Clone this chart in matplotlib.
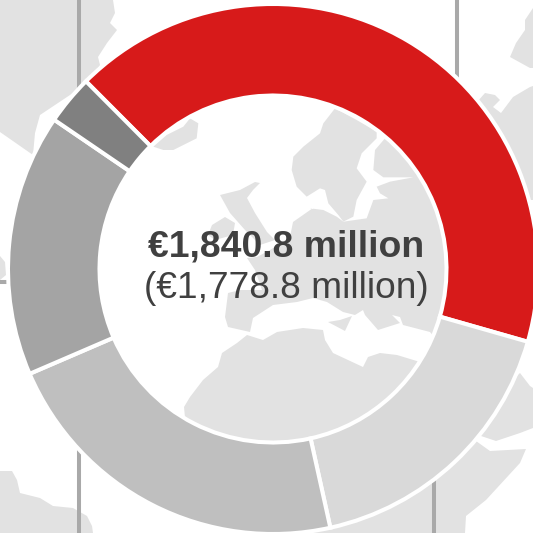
import matplotlib.pyplot as plt
from matplotlib.patches import Polygon

# share of the total, clockwise starting from the red slice
shares = [41.9, 17.1, 22.0, 16.0, 3.0]
colors = ['#d71a1a', '#d9d9d9', '#bfbfbf', '#a4a4a4', '#808080']
total_label = '€1,840.8 million'
prior_label = '(€1,778.8 million)'

LAND = '#e2e2e2'
LINE = '#a9a9a9'
TEXT = '#404040'
SIZE = 533


def crop(pts):
    return [(90 + x / 3, 90 + y / 3) for x, y in pts]


# background map, in picture pixels
land = [
    # greenland
    [(0, 0), (113, 0), (115, 13), (110, 23), (117, 30), (107, 43), (98, 57), (100, 65),
     (88, 83), (40, 115), (35, 133), (33, 155), (0, 132)],
    # left edge
    [(0, 256), (5, 262), (6, 275), (0, 280)],
    # bottom left
    [(0, 471), (12, 471), (17, 480), (20, 493), (40, 498), (53, 506), (73, 508), (87, 516),
     (92, 526), (93, 533), (0, 533)],
    # top right
    [(533, 8), (525, 20), (525, 30), (516, 43), (510, 57), (530, 68), (533, 68)],
    [(470, 110), (485, 93), (495, 95), (500, 100), (493, 107), (501, 113), (513, 97), (530, 87),
     (533, 86), (533, 200), (500, 200)],
    # arabia
    [(520, 373), (530, 386), (533, 388), (533, 428), (520, 433), (496, 441), (481, 436), (470, 420)],
    # africa
    [(184, 407), (190, 397), (203, 380), (218, 367), (222, 353), (237, 343), (247, 335), (263, 340),
     (277, 332), (303, 328), (323, 330), (325, 340), (333, 353), (363, 367), (368, 357), (380, 353),
     (397, 355), (420, 362), (470, 400), (476, 441), (490, 451), (526, 449), (520, 463), (486, 500),
     (466, 516), (465, 533), (300, 533), (190, 470)],
    # iceland
    crop([(190, 170), (230, 135), (280, 110), (300, 85), (325, 100), (320, 145), (250, 180), (220, 180)]),
    # scandinavia
    crop([(735, 55), (700, 100), (690, 130), (640, 170), (610, 200), (605, 240), (620, 290), (650, 320),
          (690, 295), (705, 300), (715, 340), (745, 375), (760, 395), (790, 380), (800, 330), (830, 275),
          (800, 235), (815, 190), (860, 145), (860, 125), (800, 90)]),
    # britain
    [(220, 195), (240, 190), (255, 182), (260, 183), (253, 190), (247, 198), (255, 213), (267, 232),
     (275, 240), (260, 245), (245, 230), (230, 213)],
    # ireland
    [(212, 225), (225, 217), (235, 223), (233, 235), (215, 240), (208, 235)],
    # mainland
    crop([(660, 355), (700, 360), (740, 380), (760, 395), (830, 385), (850, 330), (895, 325), (870, 310),
          (860, 290), (900, 275), (970, 262), (880, 262), (850, 240), (855, 180), (885, 145), (1000, 240),
          (1080, 500), (1040, 750)])
    + [(430, 332), (403, 325), (400, 317), (392, 315), (400, 323), (378, 330), (365, 315), (363, 310),
       (355, 315), (343, 312), (327, 302), (313, 298), (297, 302), (273, 305), (253, 318), (250, 332),
       (228, 327), (225, 317), (228, 293), (240, 290), (262, 290), (255, 270), (247, 258), (257, 257),
       (270, 250), (290, 237), (293, 222), (313, 208)],
    # sicily
    [(328, 322), (340, 320), (352, 316), (345, 331)],
]

# grey grid lines behind the ring
lines = [((79, 0), (79, 90)), ((79, 445), (79, 533)), ((457, 0), (457, 80)),
         ((434, 480), (434, 533)), ((0, 282), (8, 282))]

fig = plt.figure(figsize=(SIZE / 100, SIZE / 100), dpi=100)
ax = fig.add_axes([0, 0, 1, 1])

for outline in land:
    ax.add_patch(Polygon([(x, SIZE - y) for x, y in outline], facecolor=LAND, edgecolor='none', zorder=1))
for (x0, y0), (x1, y1) in lines:
    ax.plot([x0, x1], [SIZE - y0, SIZE - y1], color=LINE, lw=2.9, solid_capstyle='butt', zorder=1.5)

wedges, _ = ax.pie(shares, colors=colors, startangle=134.9, counterclock=False,
                   center=(273, SIZE - 269), radius=265,
                   wedgeprops=dict(width=91.5, edgecolor='white', linewidth=2.9))
for w in wedges:
    w.set_zorder(3)

ax.text(286, SIZE - 256, total_label, ha='center', va='baseline', fontsize=26.9, fontweight='bold',
        family='Liberation Sans', color=TEXT, zorder=4)
ax.text(286.5, SIZE - 298, prior_label, ha='center', va='baseline', fontsize=26.7,
        family='Liberation Sans', color=TEXT, zorder=4)

ax.set_xlim(0, SIZE)
ax.set_ylim(0, SIZE)
ax.set_aspect('equal')
ax.axis('off')

plt.savefig('out.png', dpi=100, facecolor='white')
